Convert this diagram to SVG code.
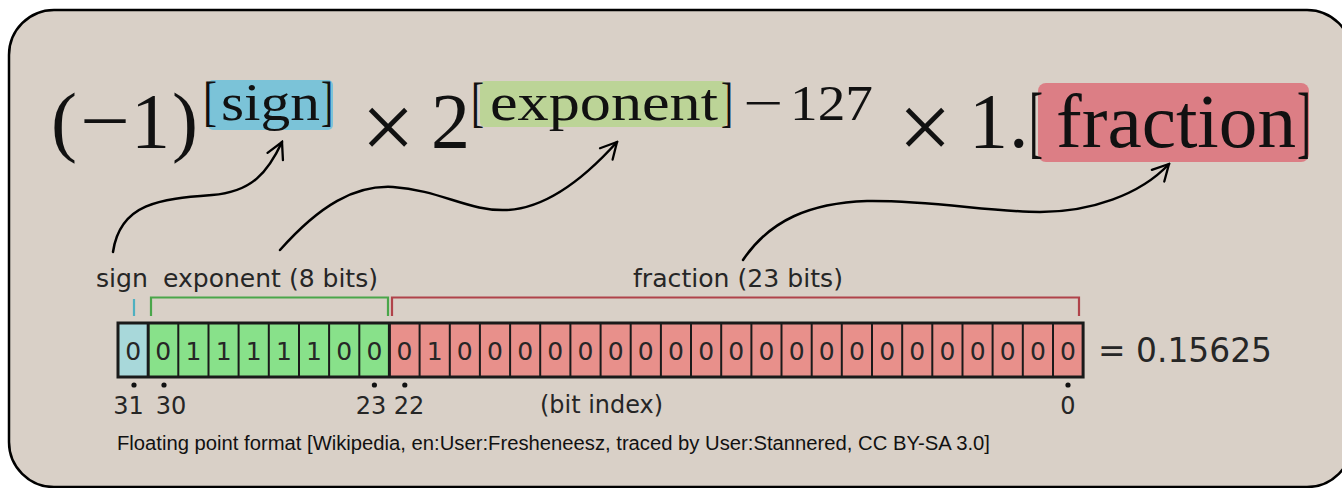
<svg xmlns="http://www.w3.org/2000/svg" width="1342" height="488" viewBox="0 0 1342 488">
<style>
.math{font-family:"Liberation Serif","Times New Roman",serif;fill:#111}
.lbl{font-family:"DejaVu Sans",sans-serif;fill:#262626}
.bit{font-family:"DejaVu Sans",sans-serif;font-size:25px;fill:#262626;text-anchor:middle}
.idx{font-family:"DejaVu Sans",sans-serif;font-size:24px;fill:#262626;text-anchor:middle}
.conn{fill:none;stroke:#000;stroke-width:2.5;stroke-linecap:round;marker-end:url(#arr)}
.dot{fill:#111}
</style>
<defs>
<marker id="arr" markerWidth="20" markerHeight="20" viewBox="-18 -10 20 20" refX="0" refY="0" orient="auto" markerUnits="userSpaceOnUse">
<path d="M-16,-8.5 L0,0 L-16,8.5" fill="none" stroke="#000" stroke-width="2.3" stroke-linejoin="miter" stroke-linecap="round"/>
</marker>
</defs>
<rect id="frame" x="9" y="10" width="1343" height="477" rx="45" ry="45" fill="#d9d0c7" stroke="#000" stroke-width="2.5"/>

<g id="formula">
<g id="base-term">
<text class="math" x="51" y="147" font-size="78">(</text>
<text class="math" x="80" y="147" font-size="78" textLength="50" lengthAdjust="spacingAndGlyphs">−</text>
<text class="math" x="131" y="147" font-size="78">1</text>
<text class="math" x="172" y="147" font-size="78">)</text>
</g>
<g id="sign-term">
<rect x="208" y="80" width="125" height="50" rx="5" fill="#7bc3d8"/>
<text class="math" x="203" y="120" font-size="54" textLength="14" lengthAdjust="spacingAndGlyphs">[</text>
<text class="math" x="221" y="120" font-size="52" textLength="99" lengthAdjust="spacingAndGlyphs">sign</text>
<text class="math" x="321" y="120" font-size="54" textLength="12" lengthAdjust="spacingAndGlyphs">]</text>
</g>
<text class="math" x="388" y="159" font-size="95" text-anchor="middle">×</text>
<text class="math" x="431" y="147" font-size="78">2</text>
<g id="exponent-term">
<rect x="480" y="81" width="247" height="46" rx="5" fill="#bcd497"/>
<text class="math" x="471" y="121" font-size="54" textLength="13" lengthAdjust="spacingAndGlyphs">[</text>
<text class="math" x="490" y="120" font-size="52" textLength="228" lengthAdjust="spacingAndGlyphs">exponent</text>
<text class="math" x="721" y="121" font-size="54" textLength="12" lengthAdjust="spacingAndGlyphs">]</text>
</g>
<g id="bias-term">
<text class="math" x="743" y="120" font-size="50" textLength="40" lengthAdjust="spacingAndGlyphs">−</text>
<text class="math" x="790" y="120" font-size="50" textLength="83" lengthAdjust="spacingAndGlyphs">127</text>
</g>
<text class="math" x="925" y="159" font-size="95" text-anchor="middle">×</text>
<text class="math" x="969" y="147" font-size="78">1</text>
<text class="math" x="1009" y="147" font-size="78">.</text>
<g id="fraction-term">
<rect x="1038" y="83" width="271" height="79" rx="8" fill="#dc7e85"/>
<text class="math" x="1029" y="148" font-size="80" textLength="14" lengthAdjust="spacingAndGlyphs">[</text>
<text class="math" x="1056" y="147" font-size="76" textLength="240" lengthAdjust="spacingAndGlyphs">fraction</text>
<text class="math" x="1297" y="148" font-size="80" textLength="14" lengthAdjust="spacingAndGlyphs">]</text>
</g>
</g>

<g id="connectors">
<path class="conn" d="M113,252 C120,203 160,199 212,195 C252,192 268,172 282,142"/>
<path class="conn" d="M280,250 C320,205 355,185 393,187 C440,190 470,212 507,210 C550,208 590,172 617,142"/>
<path class="conn" d="M743,260 C770,220 810,203 867,201 C930,200 990,212 1040,212 C1090,212 1140,195 1169,164"/>
</g>

<g id="bitfield">
<g id="field-labels">
<text class="lbl" x="96" y="287" font-size="24" textLength="52" lengthAdjust="spacingAndGlyphs">sign</text>
<text class="lbl" x="163" y="287" font-size="24" textLength="215" lengthAdjust="spacingAndGlyphs">exponent (8 bits)</text>
<text class="lbl" x="633" y="287" font-size="24" textLength="210" lengthAdjust="spacingAndGlyphs">fraction (23 bits)</text>
<path d="M134,299 V316" stroke="#4fb0c0" stroke-width="2.2" fill="none"/>
<path d="M151,316 V297.5 H388 V316" stroke="#4aa64a" stroke-width="2.2" fill="none"/>
<path d="M392,316 V297.5 H1079 V316" stroke="#b0434a" stroke-width="2.2" fill="none"/>
</g>
<g id="cells">
<rect x="118" y="323" width="30.2" height="54" fill="#a8d8da"/>
<rect x="148.2" y="323" width="241.2" height="54" fill="#88e18a"/>
<rect x="389.4" y="323" width="693.7" height="54" fill="#e8908b"/>
<path d="M178.3,323V377M208.5,323V377M238.6,323V377M268.8,323V377M299,323V377M329.1,323V377M359.3,323V377M419.6,323V377M449.8,323V377M479.9,323V377M510.1,323V377M540.2,323V377M570.4,323V377M600.6,323V377M630.7,323V377M660.9,323V377M691,323V377M721.2,323V377M751.4,323V377M781.5,323V377M811.7,323V377M841.8,323V377M872,323V377M902.2,323V377M932.3,323V377M962.5,323V377M992.6,323V377M1022.8,323V377M1053,323V377" stroke="#1a1a1a" stroke-width="2" fill="none"/>
<path d="M148.2,323V377M389.4,323V377" stroke="#1a1a1a" stroke-width="3" fill="none"/>
<rect x="118" y="323" width="965.1" height="54" fill="none" stroke="#1a1a1a" stroke-width="3"/>
<text class="bit" x="133.1" y="360">0</text>
<text class="bit" x="163.2" y="360">0</text>
<text class="bit" x="193.4" y="360">1</text>
<text class="bit" x="223.6" y="360">1</text>
<text class="bit" x="253.7" y="360">1</text>
<text class="bit" x="283.9" y="360">1</text>
<text class="bit" x="314" y="360">1</text>
<text class="bit" x="344.2" y="360">0</text>
<text class="bit" x="374.4" y="360">0</text>
<text class="bit" x="404.5" y="360">0</text>
<text class="bit" x="434.7" y="360">1</text>
<text class="bit" x="464.8" y="360">0</text>
<text class="bit" x="495" y="360">0</text>
<text class="bit" x="525.2" y="360">0</text>
<text class="bit" x="555.3" y="360">0</text>
<text class="bit" x="585.5" y="360">0</text>
<text class="bit" x="615.6" y="360">0</text>
<text class="bit" x="645.8" y="360">0</text>
<text class="bit" x="676" y="360">0</text>
<text class="bit" x="706.1" y="360">0</text>
<text class="bit" x="736.3" y="360">0</text>
<text class="bit" x="766.4" y="360">0</text>
<text class="bit" x="796.6" y="360">0</text>
<text class="bit" x="826.8" y="360">0</text>
<text class="bit" x="856.9" y="360">0</text>
<text class="bit" x="887.1" y="360">0</text>
<text class="bit" x="917.2" y="360">0</text>
<text class="bit" x="947.4" y="360">0</text>
<text class="bit" x="977.6" y="360">0</text>
<text class="bit" x="1007.7" y="360">0</text>
<text class="bit" x="1037.9" y="360">0</text>
<text class="bit" x="1068" y="360">0</text>
</g>
<text class="lbl" x="1098" y="362" font-size="34" textLength="174" lengthAdjust="spacingAndGlyphs">= 0.15625</text>
<g id="bit-index">
<circle class="dot" cx="134" cy="385" r="2.6"/>
<circle class="dot" cx="164" cy="385" r="2.6"/>
<circle class="dot" cx="374.4" cy="385" r="2.6"/>
<circle class="dot" cx="404.8" cy="385" r="2.6"/>
<circle class="dot" cx="1068" cy="385" r="2.6"/>
<text class="idx" x="128.5" y="414">31</text>
<text class="idx" x="171" y="414">30</text>
<text class="idx" x="371" y="414">23</text>
<text class="idx" x="409" y="414">22</text>
<text class="idx" x="1068" y="414">0</text>
<text class="lbl" x="540" y="413" font-size="24" textLength="123" lengthAdjust="spacingAndGlyphs">(bit index)</text>
</g>
</g>

<text id="caption" x="117" y="450" font-family="Liberation Sans, Arial, sans-serif" font-size="20" fill="#111" textLength="873" lengthAdjust="spacingAndGlyphs">Floating point format [Wikipedia, en:User:Fresheneesz, traced by User:Stannered, CC BY-SA 3.0]</text>
</svg>
